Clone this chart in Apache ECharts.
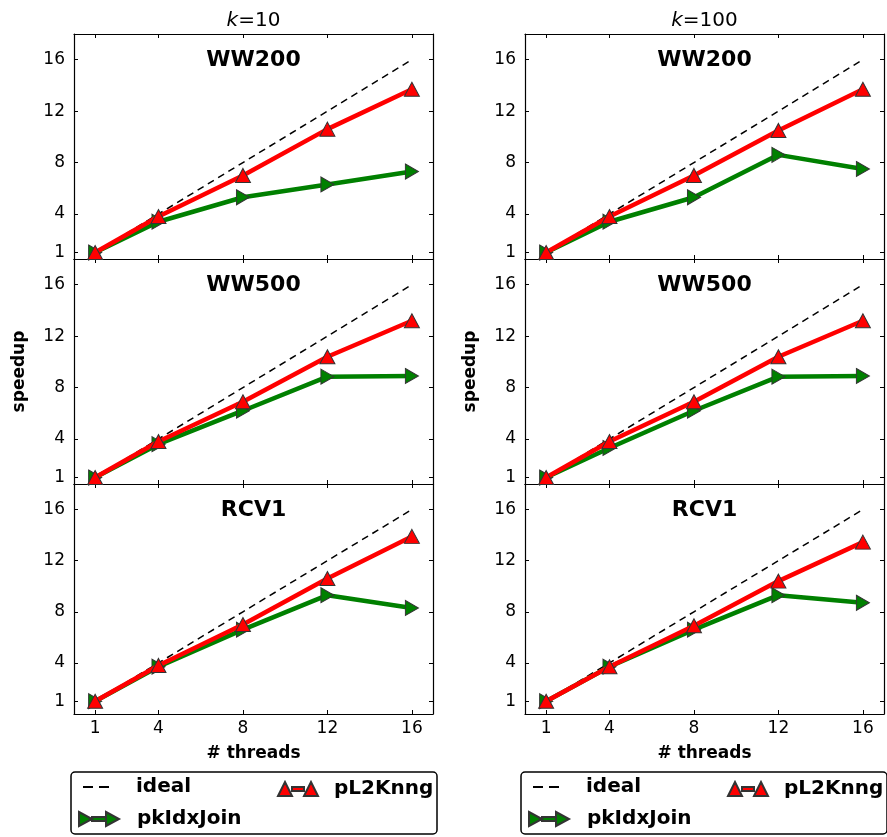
<!DOCTYPE html>
<html>
<head>
<meta charset="utf-8">
<script src="https://cdn.jsdelivr.net/npm/echarts@6/dist/echarts.min.js"></script>
<style>html,body{margin:0;padding:0;background:#fff}#c{width:887px;height:837px}</style>
</head>
<body>
<div id="c"></div>
<script>
// ---- data ----
const threads = [1, 4, 8, 12, 16];
const tickValuesX = [1, 4, 8, 12, 16];
const tickValuesY = [1, 4, 8, 12, 16];
const ideal = [1, 4, 8, 12, 16];
const datasets = ['WW200', 'WW500', 'RCV1'];
const kLabels = ['10', '100'];
const ww200_k10_pL2Knng = [1, 3.8, 7.0, 10.6, 13.7];
const ww200_k10_pkIdxJoin = [1, 3.4, 5.3, 6.3, 7.3];
const ww200_k100_pL2Knng = [1, 3.8, 7.0, 10.5, 13.7];
const ww200_k100_pkIdxJoin = [1, 3.4, 5.3, 8.6, 7.5];
const ww500_k10_pL2Knng = [1, 3.8, 6.9, 10.4, 13.2];
const ww500_k10_pkIdxJoin = [1, 3.6, 6.2, 8.85, 8.9];
const ww500_k100_pL2Knng = [1, 3.8, 6.9, 10.4, 13.2];
const ww500_k100_pkIdxJoin = [1, 3.3, 6.2, 8.85, 8.9];
const rcv1_k10_pL2Knng = [1, 3.8, 7.0, 10.6, 13.9];
const rcv1_k10_pkIdxJoin = [1, 3.7, 6.6, 9.3, 8.3];
const rcv1_k100_pL2Knng = [1, 3.7, 6.9, 10.4, 13.45];
const rcv1_k100_pkIdxJoin = [1, 3.7, 6.6, 9.3, 8.7];

const panelData = [
  [[ww200_k10_pL2Knng, ww200_k10_pkIdxJoin], [ww200_k100_pL2Knng, ww200_k100_pkIdxJoin]],
  [[ww500_k10_pL2Knng, ww500_k10_pkIdxJoin], [ww500_k100_pL2Knng, ww500_k100_pkIdxJoin]],
  [[rcv1_k10_pL2Knng, rcv1_k10_pkIdxJoin], [rcv1_k100_pL2Knng, rcv1_k100_pkIdxJoin]]
];

// ---- layout ----
const FONT = 'DejaVu Sans';
const cols = [{left: 74, width: 359}, {left: 525, width: 359}];
const rows = [{top: 34, height: 225, min: 0.5}, {top: 259, height: 225, min: 0.5}, {top: 484, height: 230, min: 0}];

const pairs = v => threads.map((t, j) => [t, v[j]]);

const grid = [], xAxis = [], yAxis = [], series = [], title = [];
const axisLine = {show: true, onZero: false, lineStyle: {color: '#000', width: 1.2}};
const tickStyle = vals => ({show: true, inside: true, length: 4, customValues: vals, lineStyle: {color: '#000', width: 1}});

let gi = 0;
rows.forEach((r, ri) => {
  cols.forEach((c, ci) => {
    grid.push({left: c.left, top: r.top, width: c.width, height: r.height, containLabel: false});
    const isBottom = ri === rows.length - 1;
    xAxis.push({
      type: 'value', gridIndex: gi, position: 'bottom', min: 0, max: 17,
      axisLine, splitLine: {show: false}, axisTick: tickStyle(tickValuesX),
      axisLabel: isBottom ? {show: true, customValues: tickValuesX, margin: 6, color: '#000', fontFamily: FONT, fontSize: 17} : {show: false},
      name: isBottom ? '# threads' : '', nameLocation: 'middle', nameGap: 31,
      nameTextStyle: {fontFamily: FONT, fontWeight: 'bold', fontSize: 17, color: '#000'}
    });
    xAxis.push({
      type: 'value', gridIndex: gi, position: 'top', min: 0, max: 17,
      axisLine, splitLine: {show: false}, axisTick: tickStyle(tickValuesX), axisLabel: {show: false}
    });
    yAxis.push({
      type: 'value', gridIndex: gi, position: 'left', min: r.min, max: 18,
      axisLine, splitLine: {show: false}, axisTick: tickStyle(tickValuesY),
      axisLabel: {show: true, customValues: tickValuesY, margin: 9, color: '#000', fontFamily: FONT, fontSize: 17},
      name: ri === 1 ? 'speedup' : '', nameLocation: 'middle', nameGap: 46,
      nameTextStyle: {fontFamily: FONT, fontWeight: 'bold', fontSize: 17, color: '#000'}
    });
    yAxis.push({
      type: 'value', gridIndex: gi, position: 'right', min: r.min, max: 18,
      axisLine, splitLine: {show: false}, axisTick: tickStyle(tickValuesY), axisLabel: {show: false}
    });
    const [pl2, pk] = panelData[ri][ci];
    series.push({
      name: 'ideal', type: 'line', xAxisIndex: 2 * gi, yAxisIndex: 2 * gi, data: pairs(ideal),
      symbol: 'none', lineStyle: {color: '#000', width: 1.5, type: [7, 5]}, itemStyle: {color: '#000'},
      silent: true, animation: false, z: 2
    });
    series.push({
      name: 'pkIdxJoin', type: 'line', xAxisIndex: 2 * gi, yAxisIndex: 2 * gi, data: pairs(pk),
      symbol: 'path://M0,0 L10,5 L0,10 Z', symbolSize: [13, 15],
      lineStyle: {color: '#008000', width: 4.5},
      itemStyle: {color: '#008000', borderColor: '#333', borderWidth: 1},
      silent: true, animation: false, z: 3
    });
    series.push({
      name: 'pL2Knng', type: 'line', xAxisIndex: 2 * gi, yAxisIndex: 2 * gi, data: pairs(pl2),
      symbol: 'triangle', symbolSize: [15, 14],
      lineStyle: {color: '#ff0000', width: 4.5},
      itemStyle: {color: '#ff0000', borderColor: '#333', borderWidth: 1},
      silent: true, animation: false, z: 4
    });
    title.push({
      text: datasets[ri], left: c.left + c.width / 2, top: r.top + 15, textAlign: 'center', padding: 0,
      textStyle: {fontFamily: FONT, fontWeight: 'bold', fontSize: 22, color: '#000'}
    });
    gi++;
  });
});

cols.forEach((c, ci) => {
  title.push({
    text: '{i|k}=' + kLabels[ci], left: c.left + c.width / 2, top: 11, textAlign: 'center', padding: 0,
    textStyle: {fontFamily: FONT, fontSize: 20, fontWeight: 'normal', color: '#000',
      rich: {i: {fontFamily: FONT, fontStyle: 'italic', fontWeight: 'normal', fontSize: 20, color: '#000'}}}
  });
});

// legends
const legTxt = {fontFamily: FONT, fontWeight: 'bold', fontSize: 20, color: '#000', padding: [0, 0, 0, 22]};
const legend = [];
const graphic = [];
cols.forEach((c, ci) => {
  const off = ci * 450;
  legend.push({data: [{name: 'ideal', icon: 'path://M0,6 L10,6 L10,8 L0,8 Z M16,6 L26,6 L26,8 L16,8 Z'}],
    left: 83 + off, top: 777, itemWidth: 26, itemHeight: 14, padding: 0, textStyle: legTxt,
    selectedMode: false, itemStyle: {borderWidth: 0}});
  legend.push({data: [{name: 'pL2Knng', icon: 'path://M0,14 L7,0 L14,14 Z M14,5 L26,5 L26,9 L14,9 Z M26,14 L33,0 L40,14 Z'}],
    left: 277 + off, top: 779, itemWidth: 40, itemHeight: 14, padding: 0,
    textStyle: Object.assign({}, legTxt, {padding: [0, 0, 0, 11]}), selectedMode: false});
  legend.push({data: [{name: 'pkIdxJoin', icon: 'path://M0,0 L13,7 L0,14 Z M13,5 L27,5 L27,9 L13,9 Z M27,0 L40,7 L27,14 Z'}],
    left: 78 + off, top: 809, itemWidth: 40, itemHeight: 14, padding: 0,
    textStyle: Object.assign({}, legTxt, {padding: [0, 0, 0, 13]}), selectedMode: false});
  graphic.push({type: 'rect', shape: {x: 71 + off, y: 772, width: 366, height: 62, r: 4},
    style: {fill: 'none', stroke: '#000', lineWidth: 1.5}, z: 100});
});

const chart = echarts.init(document.getElementById('c'), null, {renderer: 'canvas'});
chart.setOption({
  backgroundColor: '#fff', animation: false,
  grid, xAxis, yAxis, series, title, legend, graphic
});
</script>
</body>
</html>
